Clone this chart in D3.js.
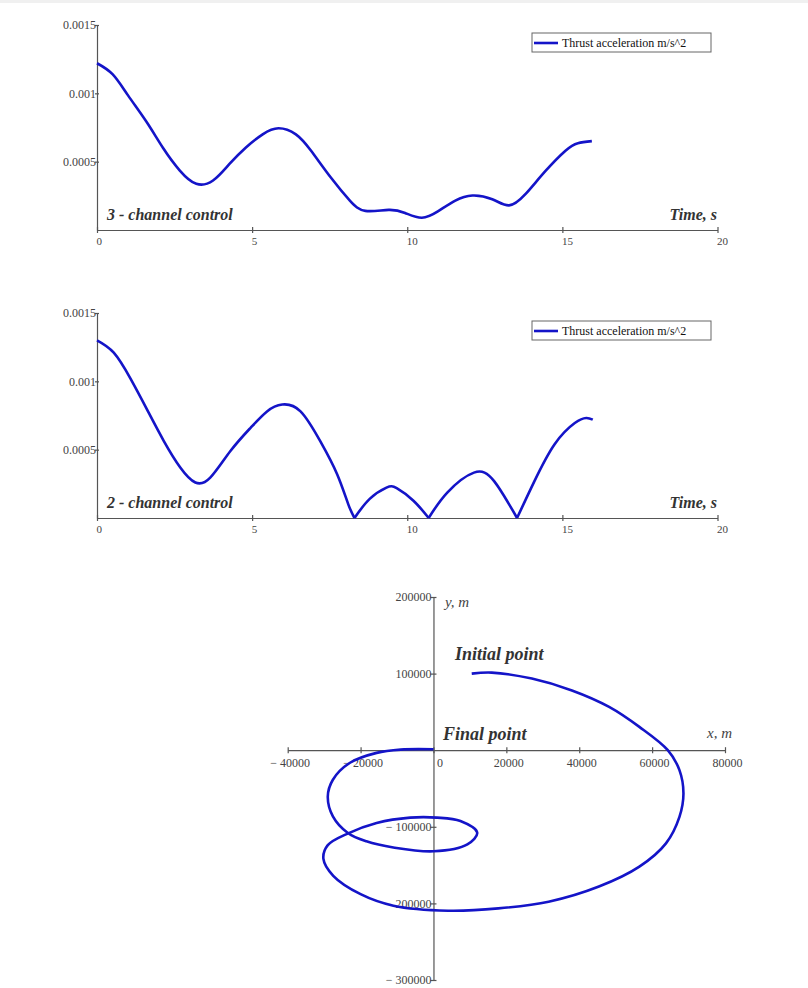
<!DOCTYPE html>
<html>
<head>
<meta charset="utf-8">
<script src="https://cdn.jsdelivr.net/npm/d3@7"></script>
<style>
  body { margin: 0; background: #fff; }
  svg { display: block; }
  .tick text { font-family: "Liberation Serif", "Times New Roman", serif; fill: #444; }
  .axis path, .axis line { stroke: #555; stroke-width: 1.2; }
  .cap { font-family: "Liberation Serif", "Times New Roman", serif; font-weight: bold; font-style: italic; fill: #333; }
  .lbl { font-family: "Liberation Serif", "Times New Roman", serif; font-style: italic; fill: #444; }
</style>
</head>
<body>
<div id="chart"></div>
<script>
// 3-channel control, thrust acceleration (m/s^2) vs time (s)
const time3 = [0, 0.5, 1.0, 1.6, 2.13, 2.67, 3.2, 3.74, 4.27, 4.8, 5.34, 5.85, 6.41, 6.9, 7.55, 8.15,
  8.65, 9.4, 9.93, 10.47, 11.0, 11.55, 12.1, 12.74, 13.28, 13.8, 14.45, 15.1, 15.5, 15.95];
const accel3 = [0.00122, 0.00114, 0.000985, 0.00079, 0.0006, 0.000435, 0.000338, 0.000362, 0.000483,
  0.000604, 0.0007, 0.000745, 0.0007, 0.00058, 0.00038, 0.000215, 0.00014, 0.000147, 0.000125, 0.00009,
  0.000138, 0.000215, 0.000252, 0.000225, 0.00018, 0.00026, 0.00043, 0.00058, 0.000635, 0.00065];

// 2-channel control
const time2 = [0, 0.54, 1.08, 1.61, 2.15, 2.69, 3.17, 3.65, 4.3, 4.95, 5.48, 5.97, 6.56, 7.2, 7.74, 8.1,
  8.3, 8.79, 9.33, 9.66, 10.2, 10.69, 11.29, 12.15, 12.8, 13.54, 14.1, 14.75, 15.4, 15.77, 15.98];
const accel2 = [0.0013, 0.00121, 0.00102, 0.000795, 0.000565, 0.000368, 0.00026, 0.000295, 0.00049,
  0.00066, 0.00078, 0.00083, 0.00078, 0.00056, 0.00032, 0.0001, 0, 0.00014, 0.000222, 0.000218,
  0.000126, 0, 0.000186, 0.000332, 0.00027, 0, 0.00027, 0.00054, 0.000695, 0.000732, 0.00072];

const timeTicks = [0, 5, 10, 15, 20];
const accelTicks = [0.0005, 0.001, 0.0015];

// trajectory, m
const trajX = [10500, 16000, 27000, 38000, 48200, 56500, 64300, 67500, 68600, 67500, 63800, 56500,
  45400, 31600, 17800, 4000, -11000, -20000, -27500, -30200, -29000, -23400, -15600, -6400, 1000,
  7400, 12000, 9300, 0, -11000, -18400, -23400, -27600, -29000, -27600, -23000, -15600, -9000, 0];
const trajY = [100000, 101300, 93500, 78000, 56500, 30400, 0, -26000, -56500, -87000, -121600, -152000,
  -178000, -197800, -206500, -209500, -203000, -188000, -164000, -142000, -124000, -108500, -95000,
  -88000, -88000, -92500, -107700, -123000, -132000, -127000, -119000, -108500, -86500, -60500,
  -38600, -16700, -3500, 800, 1200];
const xTicks = [-40000, -20000, 0, 20000, 40000, 60000, 80000];
const yTicks = [200000, 100000, -100000, -200000, -300000];

const blue = "#1414c8";

const svg = d3.select("#chart")
  .append("svg")
  .attr("width", 808)
  .attr("height", 988);

svg.append("rect").attr("x", 0).attr("y", 0).attr("width", 808).attr("height", 3).attr("fill", "#f0f0f0");

function timeChart(top, times, values, caption, cusps) {
  const x = d3.scaleLinear().domain([0, 20]).range([97, 717.5]);
  const y = d3.scaleLinear().domain([0, 0.0015]).range([top + 205, top]);

  const xa = svg.append("g")
    .attr("class", "axis")
    .attr("transform", `translate(0, ${y(0)})`)
    .call(d3.axisBottom(x).tickValues(timeTicks).tickSize(3).tickSizeOuter(0).tickFormat(d => d));
  xa.selectAll(".tick line").attr("y1", -3).attr("y2", 3);
  xa.selectAll(".tick text").attr("text-anchor", "start").attr("x", -1).attr("y", 7).attr("font-size", 11);

  const ya = svg.append("g")
    .attr("class", "axis")
    .attr("transform", `translate(${x(0)}, 0)`)
    .call(d3.axisLeft(y).tickValues(accelTicks).tickSize(2).tickSizeOuter(0).tickFormat(d => String(d)));
  ya.selectAll(".tick line").attr("x1", 2);
  ya.selectAll(".tick text").attr("x", -1).attr("font-size", 12);

  const pts = times.map((t, i) => [t, values[i]]);
  // split at the zero points so the |.| curve keeps its cusps
  const parts = [];
  let cur = [];
  pts.forEach(p => {
    cur.push(p);
    if (cusps && p[1] === 0 && cur.length > 1) { parts.push(cur); cur = [p]; }
  });
  parts.push(cur);

  const line = d3.line()
    .x(d => x(d[0]))
    .y(d => y(d[1]))
    .curve(d3.curveNatural);

  parts.forEach(seg => {
    svg.append("path")
      .attr("d", line(seg))
      .attr("fill", "none")
      .attr("stroke", blue)
      .attr("stroke-width", 2.6)
      .attr("stroke-linejoin", "round");
  });

  svg.append("text").attr("class", "cap")
    .attr("x", 107).attr("y", y(0) - 10)
    .attr("font-size", 16)
    .text(caption);
  svg.append("text").attr("class", "cap")
    .attr("x", 717).attr("y", y(0) - 10)
    .attr("text-anchor", "end")
    .attr("font-size", 16)
    .text("Time, s");

  // legend
  const lg = svg.append("g").attr("transform", `translate(532, ${top + 8})`);
  lg.append("rect").attr("width", 179).attr("height", 19)
    .attr("fill", "#fff").attr("stroke", "#666").attr("stroke-width", 1);
  lg.append("line").attr("x1", 2).attr("x2", 26).attr("y1", 10).attr("y2", 10)
    .attr("stroke", blue).attr("stroke-width", 2.6);
  lg.append("text").attr("x", 30).attr("y", 14)
    .attr("font-family", "Liberation Serif, serif").attr("font-size", 12).attr("fill", "#111")
    .text("Thrust acceleration m/s^2");
}

timeChart(25, time3, accel3, "3 - channel control", false);
timeChart(313, time2, accel2, "2 - channel control", true);

// trajectory chart
const sx = d3.scaleLinear().domain([-40000, 80000]).range([287.7, 725]);
const sy = d3.scaleLinear().domain([-300000, 200000]).range([980, 597]);
const minus = v => (v < 0 ? "\u2212 " + Math.abs(v) : String(v));

const sxa = svg.append("g")
  .attr("class", "axis")
  .attr("transform", `translate(0, ${sy(0)})`)
  .call(d3.axisBottom(sx).tickValues(xTicks).tickSize(3).tickSizeOuter(0).tickFormat(minus));
sxa.selectAll(".tick line").attr("y1", -3).attr("y2", 3);
sxa.selectAll(".tick text").attr("x", 2).attr("y", 8).attr("font-size", 12);
sxa.selectAll(".tick").filter(d => d === 0).select("text").attr("x", 6);

const sya = svg.append("g")
  .attr("class", "axis")
  .attr("transform", `translate(${sx(0)}, 0)`)
  .call(d3.axisLeft(sy).tickValues(yTicks).tickSize(3).tickSizeOuter(0).tickFormat(minus));
sya.selectAll(".tick line").attr("x1", 3);
sya.selectAll(".tick text").attr("x", -2).attr("font-size", 12);

const traj = trajX.map((v, i) => [v, trajY[i]]);
svg.append("path")
  .attr("d", d3.line().x(d => sx(d[0])).y(d => sy(d[1])).curve(d3.curveCatmullRom.alpha(0.5))(traj))
  .attr("fill", "none")
  .attr("stroke", blue)
  .attr("stroke-width", 2.6)
  .attr("stroke-linejoin", "round");

svg.append("text").attr("class", "lbl").attr("x", 445).attr("y", 607).attr("font-size", 15).text("y, m");
svg.append("text").attr("class", "lbl").attr("x", 707).attr("y", 738).attr("font-size", 15).text("x, m");
svg.append("text").attr("class", "cap").attr("x", 455).attr("y", 660).attr("font-size", 18).text("Initial point");
svg.append("text").attr("class", "cap").attr("x", 443).attr("y", 740).attr("font-size", 18).text("Final point");
</script>
</body>
</html>
